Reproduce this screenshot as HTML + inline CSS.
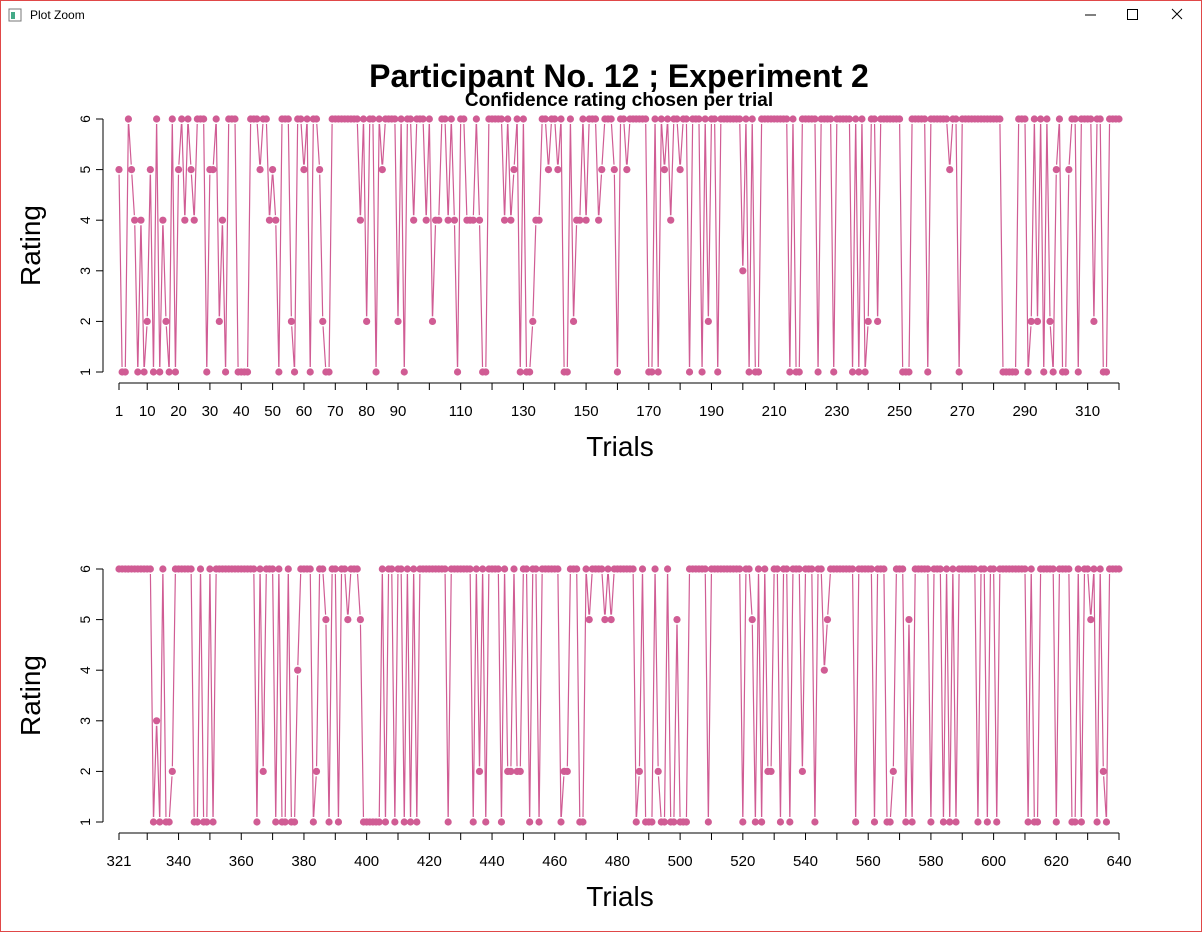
<!DOCTYPE html>
<html><head><meta charset="utf-8"><style>
html,body{margin:0;padding:0;background:#fff;}
body{width:1202px;height:932px;overflow:hidden;position:relative;font-family:"Liberation Sans",sans-serif;}
svg text{font-family:"Liberation Sans",sans-serif;}
</style></head><body>
<svg id="chart" width="1202" height="932" viewBox="0 0 1202 932" xmlns="http://www.w3.org/2000/svg">
<rect x="0.5" y="0.5" width="1201" height="931" fill="#fff" stroke="#e04848" stroke-width="1"/>
<g>
<rect x="9" y="9" width="12" height="12" fill="#fff" stroke="#777"/>
<rect x="11" y="12" width="4" height="7" fill="#4a8"/>
<text x="30" y="19" font-size="12" fill="#000">Plot Zoom</text>
<line x1="1085" y1="15" x2="1096" y2="15" stroke="#000"/>
<rect x="1127.5" y="9.5" width="10" height="10" fill="none" stroke="#000"/>
<path d="M1172 9 L1182 19 M1182 9 L1172 19" stroke="#000"/>
</g>
<text x="619" y="87" font-size="32" font-weight="bold" text-anchor="middle">Participant No. 12 ; Experiment 2</text>
<text x="619" y="106" font-size="19" font-weight="bold" text-anchor="middle">Confidence rating chosen per trial</text>
<g id="p1"></g>
<g id="p2"></g>
</svg>
<script>
const ratingsTop = ("51165414125161421615"+"64654666155624166611"+"11666566454166621665"+"61665211666666666462"+"66165666626166466646"+"24466464166444641166"+"66646456161124466566"+"56116244646664566651"+"66566666611616564665"+"66166616266166666663"+"61611666666666161166"+"66616666166666161612"+"66266666661116666616"+"66666566166666666666"+"66111116661262616215"+"61156616666266116666").split("").map(Number);
const ratingsBottom = ("66666666666131611266"+"66661161161666666666"+"66661626661611611466"+"66126651661665666511"+"11116166166161616666"+"66666166666661626166"+"66162262266166166666"+"61226661165666656566"+"66666126111621161151"+"11666666166666666661"+"66516162266166166626"+"66166456666666616666"+"61666112666151666661"+"66616161666666166166"+"16666666661611666661"+"66661161665616216666").split("").map(Number);
const ticksTop = [1,10,20,30,40,50,60,70,80,90,100,110,120,130,140,150,160,170,180,190,200,210,220,230,240,250,260,270,280,290,300,310,320];
const labelsTop = [1,10,20,30,40,50,60,70,80,90,110,130,150,170,190,210,230,250,270,290,310];
const ticksBottom = [321,330,340,350,360,370,380,390,400,410,420,430,440,450,460,470,480,490,500,510,520,530,540,550,560,570,580,590,600,610,620,630,640];
const labelsBottom = [321,340,360,380,400,420,440,460,480,500,520,540,560,580,600,620,640];
const yTicks = [1,2,3,4,5,6];

const NS="http://www.w3.org/2000/svg";
function mk(tag, attrs, parent){const e=document.createElementNS(NS,tag);for(const k in attrs)e.setAttribute(k,attrs[k]);parent.appendChild(e);return e;}

function panel(g, data, start, ticks, labels, top){
  const x0=119, x1=1119, yTop=top, yBot=top+253;
  const n=data.length;
  const xs = t => x0 + (t-start)*(x1-x0)/(n-1);
  const ys = v => yBot - (v-1)*(yBot-yTop)/5;
  let e=mk("line",{x1:103,y1:ys(1),x2:103,y2:ys(6),stroke:"#000"},g);
  
  
  yTicks.forEach(v=>{
    const l=mk("line",{x1:96,y1:ys(v),x2:103,y2:ys(v),stroke:"#000"},g);
    
    
    const t=mk("text",{x:0,y:0,"font-size":14,"text-anchor":"middle",transform:`translate(90,${ys(v)}) rotate(-90)`},g);
    t.textContent=v;
    
    
  });
  const yl=mk("text",{x:0,y:0,"font-size":28,"text-anchor":"middle",transform:`translate(40,${(yTop+yBot)/2}) rotate(-90)`},g);
  yl.textContent="Rating";
  
  
  const ay=yBot+11;
  e=mk("line",{x1:xs(ticks[0]),y1:ay,x2:xs(ticks[ticks.length-1]),y2:ay,stroke:"#000"},g);
  
  
  ticks.forEach(v=>{
    const l=mk("line",{x1:xs(v),y1:ay,x2:xs(v),y2:ay+7,stroke:"#000"},g);
    
    
  });
  labels.forEach(v=>{
    const t=mk("text",{x:xs(v),y:ay+33,"font-size":15,"text-anchor":"middle"},g);
    t.textContent=v;
    
    
  });
  const xl=mk("text",{x:620,y:ay+73,"font-size":28,"text-anchor":"middle"},g);
  xl.textContent="Trials";
  
  
  // type "b": segments with gaps around points
  let d="";
  const gap=5;
  for(let i=0;i<n-1;i++){
    const ax=xs(start+i), ay1=ys(data[i]), bx=xs(start+i+1), by=ys(data[i+1]);
    const dx=bx-ax, dy=by-ay1, L=Math.hypot(dx,dy);
    if(L<=2*gap) continue;
    const ux=dx/L, uy=dy/L;
    d+=`M${(ax+ux*gap).toFixed(2)} ${(ay1+uy*gap).toFixed(2)}L${(bx-ux*gap).toFixed(2)} ${(by-uy*gap).toFixed(2)}`;
  }
  const pl=mk("path",{d:d,fill:"none",stroke:"#d05c94","stroke-width":1.2},g);
  
  
  data.forEach((v,i)=>{
    const c=mk("circle",{cx:xs(start+i),cy:ys(v),r:3.6,fill:"#d05c94"},g);
    
    
  });
}
panel(document.getElementById("p1"), ratingsTop, 1, ticksTop, labelsTop, 119);
panel(document.getElementById("p2"), ratingsBottom, 321, ticksBottom, labelsBottom, 569);
</script>
</body></html>
